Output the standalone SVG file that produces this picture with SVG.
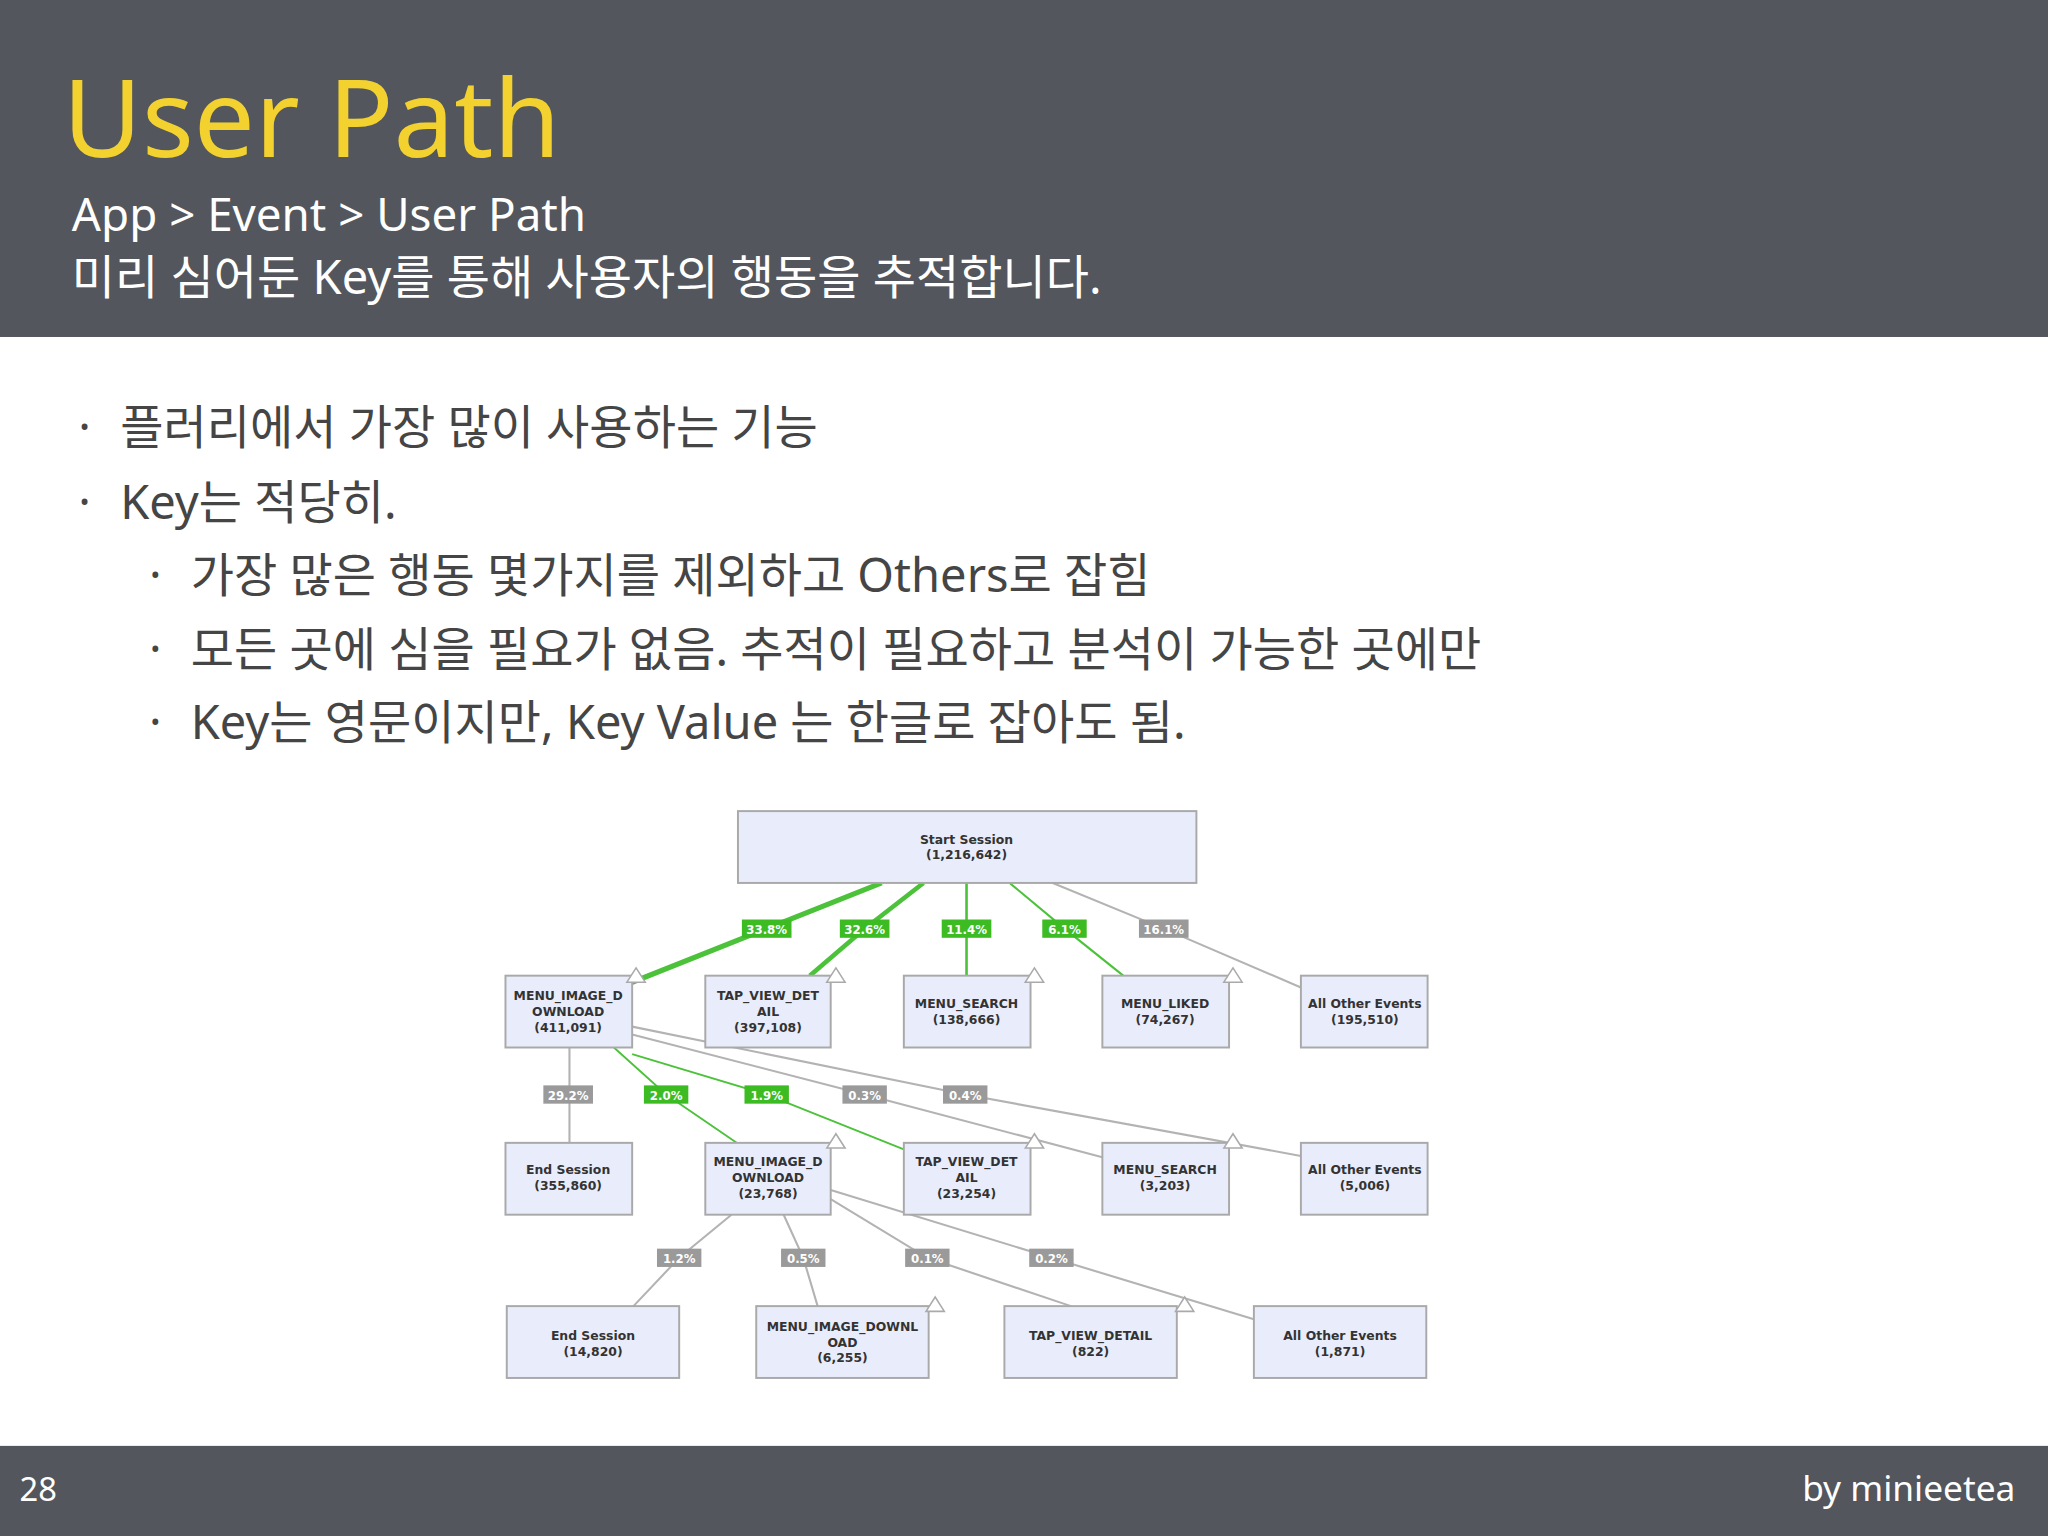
<svg xmlns="http://www.w3.org/2000/svg" width="2048" height="1536" viewBox="0 0 2048 1536">
<style>
.hd{font-family:"Noto Sans","Noto Sans CJK KR",sans-serif;fill:#fff}
.bl{font-family:"Noto Sans","Noto Sans CJK KR",sans-serif;fill:#454545;font-size:36px}
.nd rect{fill:#e9edfb;stroke:#a9a9a9;stroke-width:1.5}
.nd text{font-family:"DejaVu Sans",sans-serif;font-weight:bold;font-size:9.5px;fill:#333;text-anchor:middle}
.g{stroke:#4cc23a;fill:none}
.y{stroke:#b3b3b3;fill:none;stroke-width:1.6}
.lg rect{fill:#3dbb22}
.ly rect{fill:#9a9a9a}
.lb text{font-family:"DejaVu Sans",sans-serif;font-weight:bold;font-size:9px;fill:#fff;text-anchor:middle}
.ar{fill:#fff;stroke:#aaa;stroke-width:1.2}
</style>
<g transform="scale(1.306122)">
<rect x="0" y="0" width="1568" height="258" fill="#53565c"/>
<text x="48" y="120" font-family="Noto Sans, sans-serif" font-size="83" fill="#f3d22f">User Path</text>
<text class="hd" x="55" y="177" font-size="35">App &gt; Event &gt; User Path</text>
<text class="hd" x="55" y="225" font-size="36">미리 심어둔 Key를 통해 사용자의 행동을 추적합니다.</text>
<text class="bl" x="60" y="340">·</text><text class="bl" x="92" y="340">플러리에서 가장 많이 사용하는 기능</text>
<text class="bl" x="60" y="397">·</text><text class="bl" x="92" y="397">Key는 적당히.</text>
<text class="bl" x="114" y="453">·</text><text class="bl" x="146" y="453">가장 많은 행동 몇가지를 제외하고 Others로 잡힘</text>
<text class="bl" x="114" y="510">·</text><text class="bl" x="146" y="510">모든 곳에 심을 필요가 없음. 추적이 필요하고 분석이 가능한 곳에만</text>
<text class="bl" x="114" y="566">·</text><text class="bl" x="146" y="566">Key는 영문이지만, Key Value 는 한글로 잡아도 됨.</text>

<g id="connectors">
<polyline class="g" stroke-width="4" points="675,676 587,711 484,752"/>
<polyline class="g" stroke-width="3.5" points="707,676 662,711 620,747"/>
<polyline class="g" stroke-width="2" points="740,676 740,747"/>
<polyline class="g" stroke-width="1.6" points="773,676 815,711 860,747"/>
<polyline class="y" points="806,676 891,711 996,756"/>
<polyline class="y" points="436,802 436,875"/>
<polyline class="g" stroke-width="1.4" points="470,802 510,838 564,875"/>
<polyline class="g" stroke-width="1.4" points="484,807 587,838 692,880"/>
<polyline class="y" points="484,792 662,838 844,886"/>
<polyline class="y" points="484,786 739,838 996,885"/>
<polyline class="y" points="560,930 520,963 485,1000"/>
<polyline class="y" points="600,930 615,963 626,1000"/>
<polyline class="y" points="636,918 710,963 820,1000"/>
<polyline class="y" points="636,911 805,963 960,1010"/>
</g>

<g id="labels" class="lb">
<g class="lg"><rect x="568" y="704" width="38" height="14"/><text x="587" y="715">33.8%</text></g>
<g class="lg"><rect x="643" y="704" width="38" height="14"/><text x="662" y="715">32.6%</text></g>
<g class="lg"><rect x="721" y="704" width="38" height="14"/><text x="740" y="715">11.4%</text></g>
<g class="lg"><rect x="798" y="704" width="34" height="14"/><text x="815" y="715">6.1%</text></g>
<g class="ly"><rect x="872" y="704" width="38" height="14"/><text x="891" y="715">16.1%</text></g>
<g class="ly"><rect x="416" y="831" width="38" height="14"/><text x="435" y="842">29.2%</text></g>
<g class="lg"><rect x="493" y="831" width="34" height="14"/><text x="510" y="842">2.0%</text></g>
<g class="lg"><rect x="570" y="831" width="34" height="14"/><text x="587" y="842">1.9%</text></g>
<g class="ly"><rect x="645" y="831" width="34" height="14"/><text x="662" y="842">0.3%</text></g>
<g class="ly"><rect x="722" y="831" width="34" height="14"/><text x="739" y="842">0.4%</text></g>
<g class="ly"><rect x="503" y="956" width="34" height="14"/><text x="520" y="967">1.2%</text></g>
<g class="ly"><rect x="598" y="956" width="34" height="14"/><text x="615" y="967">0.5%</text></g>
<g class="ly"><rect x="693" y="956" width="34" height="14"/><text x="710" y="967">0.1%</text></g>
<g class="ly"><rect x="788" y="956" width="34" height="14"/><text x="805" y="967">0.2%</text></g>
</g>

<g id="n0" class="nd"><rect x="565" y="621" width="351" height="55"/><text x="740" y="646">Start Session</text><text x="740" y="658">(1,216,642)</text></g>
<g id="n1" class="nd"><rect x="387" y="747" width="97" height="55"/><text x="435" y="766">MENU_IMAGE_D</text><text x="435" y="778">OWNLOAD</text><text x="435" y="790">(411,091)</text></g>
<g id="n2" class="nd"><rect x="540" y="747" width="96" height="55"/><text x="588" y="766">TAP_VIEW_DET</text><text x="588" y="778">AIL</text><text x="588" y="790">(397,108)</text></g>
<g id="n3" class="nd"><rect x="692" y="747" width="97" height="55"/><text x="740" y="772">MENU_SEARCH</text><text x="740" y="784">(138,666)</text></g>
<g id="n4" class="nd"><rect x="844" y="747" width="97" height="55"/><text x="892" y="772">MENU_LIKED</text><text x="892" y="784">(74,267)</text></g>
<g id="n5" class="nd"><rect x="996" y="747" width="97" height="55"/><text x="1045" y="772">All Other Events</text><text x="1045" y="784">(195,510)</text></g>
<g id="n6" class="nd"><rect x="387" y="875" width="97" height="55"/><text x="435" y="899">End Session</text><text x="435" y="911">(355,860)</text></g>
<g id="n7" class="nd"><rect x="540" y="875" width="96" height="55"/><text x="588" y="893">MENU_IMAGE_D</text><text x="588" y="905">OWNLOAD</text><text x="588" y="917">(23,768)</text></g>
<g id="n8" class="nd"><rect x="692" y="875" width="97" height="55"/><text x="740" y="893">TAP_VIEW_DET</text><text x="740" y="905">AIL</text><text x="740" y="917">(23,254)</text></g>
<g id="n9" class="nd"><rect x="844" y="875" width="97" height="55"/><text x="892" y="899">MENU_SEARCH</text><text x="892" y="911">(3,203)</text></g>
<g id="n10" class="nd"><rect x="996" y="875" width="97" height="55"/><text x="1045" y="899">All Other Events</text><text x="1045" y="911">(5,006)</text></g>
<g id="n11" class="nd"><rect x="388" y="1000" width="132" height="55"/><text x="454" y="1026">End Session</text><text x="454" y="1038">(14,820)</text></g>
<g id="n12" class="nd"><rect x="579" y="1000" width="132" height="55"/><text x="645" y="1019">MENU_IMAGE_DOWNL</text><text x="645" y="1031">OAD</text><text x="645" y="1043">(6,255)</text></g>
<g id="n13" class="nd"><rect x="769" y="1000" width="132" height="55"/><text x="835" y="1026">TAP_VIEW_DETAIL</text><text x="835" y="1038">(822)</text></g>
<g id="n14" class="nd"><rect x="960" y="1000" width="132" height="55"/><text x="1026" y="1026">All Other Events</text><text x="1026" y="1038">(1,871)</text></g>

<g id="arrows">
<polygon class="ar" points="480,752 487,741 494,752"/>
<polygon class="ar" points="633,752 640,741 647,752"/>
<polygon class="ar" points="785,752 792,741 799,752"/>
<polygon class="ar" points="937,752 944,741 951,752"/>
<polygon class="ar" points="633,879 640,868 647,879"/>
<polygon class="ar" points="785,879 792,868 799,879"/>
<polygon class="ar" points="937,879 944,868 951,879"/>
<polygon class="ar" points="709,1004 716,993 723,1004"/>
<polygon class="ar" points="900,1004 907,993 914,1004"/>
</g>

<rect x="0" y="1107" width="1568" height="69" fill="#53565c"/>
<text class="hd" x="15" y="1149" font-size="25">28</text>
<text class="hd" x="1543" y="1149" font-size="27" text-anchor="end">by minieetea</text>
</g>
</svg>
